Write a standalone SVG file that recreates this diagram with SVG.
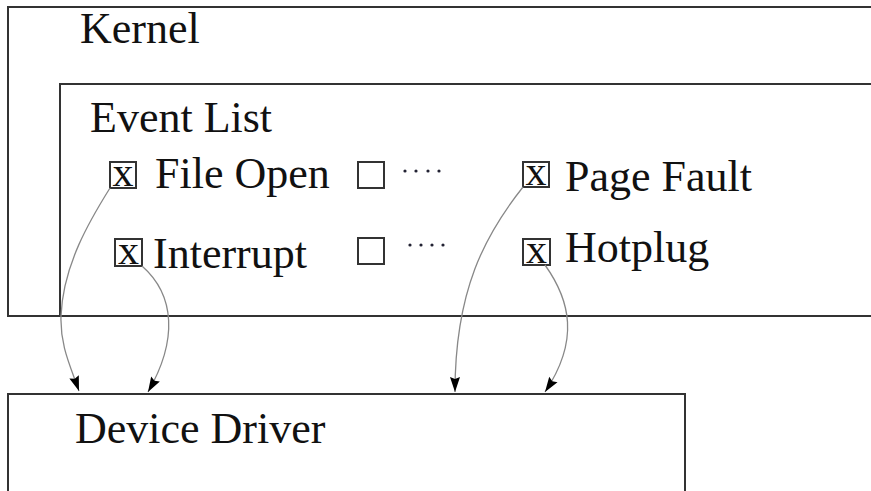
<svg xmlns="http://www.w3.org/2000/svg" width="871" height="491" viewBox="0 0 871 491">
<style>
.box{fill:none;stroke:#333;stroke-width:2}
.lbl{font-family:"Liberation Serif","Times New Roman",serif;font-size:44px;fill:#111}
.cb{fill:none;stroke:#333;stroke-width:2}
.x{font-family:"Liberation Serif","Times New Roman",serif;font-size:42px;fill:#111;text-anchor:middle}
.dot{fill:#223}
.conn{fill:none;stroke:#888;stroke-width:1.3;marker-end:url(#arr)}
</style>
<defs>
<marker id="arr" markerUnits="userSpaceOnUse" markerWidth="18" markerHeight="12" refX="15" refY="5" orient="auto" overflow="visible">
<path d="M0,0 L15,5 L0,10 L2,5 Z" fill="#000"/>
</marker>
</defs>
<rect width="871" height="491" fill="#fff"/>
<g id="kernel">
<rect class="box" x="8" y="7" width="900" height="309"/>
<text class="lbl" x="80" y="43">Kernel</text>
</g>
<g id="event-list">
<rect class="box" x="60" y="84" width="850" height="232"/>
<text class="lbl" x="90" y="132">Event List</text>
</g>
<g id="file-open">
<rect class="cb" x="110" y="162" width="26" height="26"/>
<text class="x" x="123" y="186">x</text>
<text class="lbl" x="155" y="188">File Open</text>
</g>
<g id="empty-1">
<rect class="cb" x="358" y="162" width="26" height="26"/>
<circle class="dot" cx="405" cy="171" r="1.6"/>
<circle class="dot" cx="416" cy="171" r="1.6"/>
<circle class="dot" cx="428" cy="171" r="1.6"/>
<circle class="dot" cx="439" cy="171" r="1.6"/>
</g>
<g id="page-fault">
<rect class="cb" x="523" y="162" width="26" height="25"/>
<text class="x" x="536" y="185">x</text>
<text class="lbl" x="565" y="191">Page Fault</text>
</g>
<g id="interrupt">
<rect class="cb" x="115" y="239" width="27" height="27"/>
<text class="x" x="128.5" y="264">x</text>
<text class="lbl" x="153" y="268">Interrupt</text>
</g>
<g id="empty-2">
<rect class="cb" x="358" y="238" width="26" height="26"/>
<circle class="dot" cx="410" cy="245" r="1.6"/>
<circle class="dot" cx="421" cy="245" r="1.6"/>
<circle class="dot" cx="432" cy="245" r="1.6"/>
<circle class="dot" cx="443" cy="245" r="1.6"/>
</g>
<g id="hotplug">
<rect class="cb" x="523" y="239" width="27" height="26"/>
<text class="x" x="536.5" y="263">x</text>
<text class="lbl" x="565" y="262">Hotplug</text>
</g>
<g id="device-driver">
<rect class="box" x="8" y="394" width="677" height="120"/>
<text class="lbl" x="75" y="443">Device Driver</text>
</g>
<g id="connectors">
<path class="conn" d="M110,188 C90,220 63,265 61,316 C60,345 70,365 79,391"/>
<path class="conn" d="M142,266 C175,295 178,340 148,392"/>
<path class="conn" d="M523,187 C485,235 455,290 455,392"/>
<path class="conn" d="M545,265 C570,300 580,340 545,392"/>
</g>
</svg>
